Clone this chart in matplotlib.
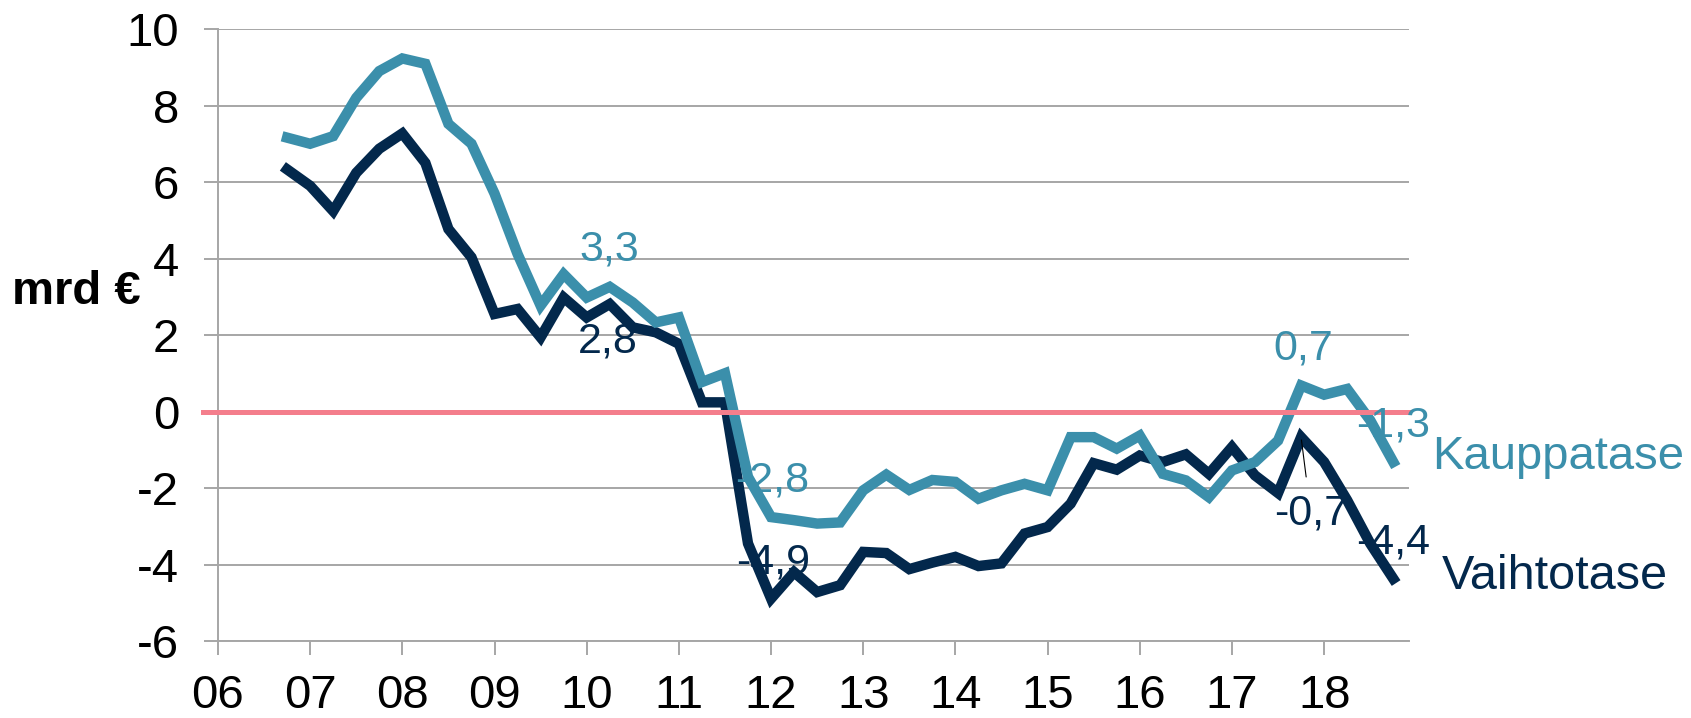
import numpy as np
import pandas as pd
import matplotlib
matplotlib.use('Agg')
import matplotlib.pyplot as plt

# quarterly, rolling 12-month sums (mrd €)
quarters = pd.period_range('2006Q4', '2018Q4', freq='Q')
kauppatase = [7.16, 7.0, 7.2, 8.2, 8.9, 9.23, 9.09, 7.52, 7.0, 5.7,
              4.12, 2.77, 3.59, 2.98, 3.26, 2.85, 2.33, 2.46, 0.77, 1.0,
              -1.71, -2.76, -2.84, -2.93, -2.9, -2.06, -1.65, -2.05, -1.79, -1.84,
              -2.28, -2.06, -1.89, -2.06, -0.67, -0.67, -0.97, -0.63, -1.63, -1.8,
              -2.24, -1.54, -1.32, -0.76, 0.68, 0.44, 0.59, -0.23, -1.32]
vaihtotase = [6.33, 5.9, 5.24, 6.24, 6.87, 7.27, 6.5, 4.77, 4.03, 2.55,
              2.68, 1.94, 2.98, 2.46, 2.81, 2.2, 2.07, 1.77, 0.24, 0.24,
              -3.45, -4.89, -4.2, -4.72, -4.54, -3.67, -3.7, -4.12, -3.95, -3.8,
              -4.04, -3.97, -3.19, -3.02, -2.41, -1.35, -1.52, -1.15, -1.32, -1.12,
              -1.63, -0.93, -1.67, -2.13, -0.67, -1.32, -2.32, -3.45, -4.37]
year_ticks = list(range(2006, 2019))
year_labels = ['%02d' % (y % 100) for y in year_ticks]
y_ticks = [-6, -4, -2, 0, 2, 4, 6, 8, 10]

teal = '#3B8FAB'
navy = '#03284C'
pink = '#F47E8C'
grey = '#A6A6A6'

plt.rcParams['font.family'] = ['Liberation Sans', 'DejaVu Sans']

x = np.array([q.year + (q.quarter - 1) / 4.0 for q in quarters])
kt = np.array(kauppatase)
vt = np.array(vaihtotase)

fig = plt.figure(figsize=(16.91, 7.18), dpi=100)
ax = fig.add_axes([0.1289, 0.1072, 0.8332 - 0.1289, 0.9596 - 0.1072])

ax.plot(x, vt, color=navy, lw=7.5, solid_joinstyle='miter', zorder=3)
ax.plot(x, kt, color=teal, lw=7.5, solid_joinstyle='miter', zorder=4)
ax.axhline(0, xmin=-0.0126, xmax=1, color=pink, lw=3.6, clip_on=False, zorder=5)

ax.set_xlim(2006, 2018.92)
ax.set_ylim(-6, 10)
ax.set_xticks(year_ticks)
ax.set_xticklabels(year_labels)
ax.set_yticks(y_ticks)
ax.set_yticklabels([str(v) for v in y_ticks])
ax.yaxis.grid(True, color=grey, lw=1.4)
ax.set_axisbelow(True)
ax.tick_params(axis='y', length=10, width=1.4, color=grey, labelsize=34, pad=18)
ax.tick_params(axis='x', length=10, width=1.4, color=grey, labelsize=34, pad=14)
for s in ('top', 'right'):
    ax.spines[s].set_visible(False)
for s in ('left', 'bottom'):
    ax.spines[s].set_color(grey)
    ax.spines[s].set_linewidth(1.4)

# data labels: (series, index, offset in points, colour)
def label(series, i, dx, dy, color, **kw):
    v = series[i]
    ax.annotate(('%.1f' % v).replace('.', ','), xy=(x[i], v), xytext=(dx, dy),
                textcoords='offset points', ha='center', va='center',
                fontsize=31, color=color, zorder=6, **kw)

label(kt, 14, 0, 27, teal)
label(vt, 14, -1.5, -27, navy)
label(kt, 21, 0.7, 26.5, teal)
label(vt, 21, 1.5, 26, navy)
label(kt, 44, 1.5, 27, teal)
label(vt, 44, 7, -55, navy,
      arrowprops=dict(arrowstyle='-', color='black', lw=0.8, shrinkA=10, shrinkB=2))
label(kt, 48, 0, 26.5, teal)
label(vt, 48, 0, 26, navy)

ax.annotate('Kauppatase', xy=(x[-1], kt[-1]), xytext=(28, 3.5), textcoords='offset points',
            ha='left', va='center', fontsize=34, color=teal, annotation_clip=False)
ax.annotate('Vaihtotase', xy=(x[-1], vt[-1]), xytext=(35, 1.5), textcoords='offset points',
            ha='left', va='center', fontsize=35, color=navy, annotation_clip=False)

fig.text(76 / 1691, 1 - 292 / 718, 'mrd €', ha='center', va='center',
         fontsize=34, fontweight='bold')

fig.savefig('out.png', dpi=100)
